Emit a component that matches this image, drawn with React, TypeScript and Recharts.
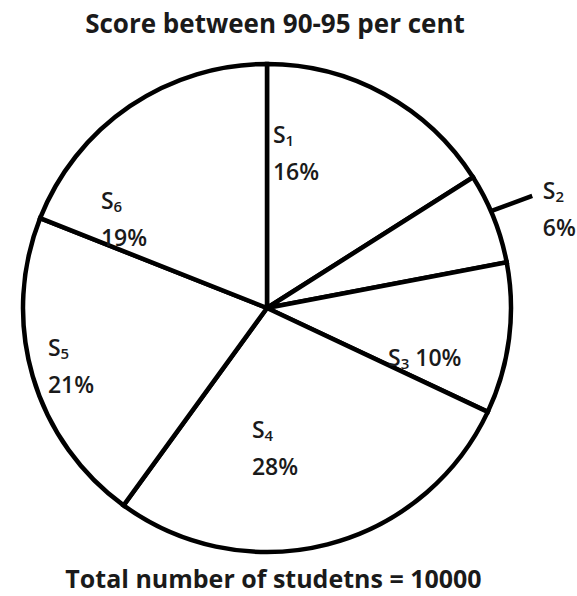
import React from "react";
import { PieChart, Pie, Cell } from "recharts";

// share of students per school, in per cent
const schools = ["S1", "S2", "S3", "S4", "S5", "S6"];
const shares = [16, 6, 10, 28, 21, 19];

const data = schools.map((name, i) => ({ name, value: shares[i] }));

// where each label sits: angle turned from the slice middle, radius as a fraction of R
const labelSpot = [
  { turn: 26.6, k: 0.63 },
  { turn: -2, k: 1.2 },
  { turn: -14.8, k: 0.535 },
  { turn: -20.5, k: 0.58 },
  { turn: -1.1, k: 0.93 },
  { turn: 27.9, k: 0.77 },
];

const RAD = Math.PI / 180;
const INK = "#1a1a1a";
const FONT = "'Open Sans', sans-serif";

const polar = (cx: number, cy: number, r: number, deg: number) => ({
  x: cx + r * Math.cos(-deg * RAD),
  y: cy + r * Math.sin(-deg * RAD),
});

function Tag({ name, x, y }: { name: string; x: number; y: number }) {
  return (
    <tspan x={x} y={y}>
      S
      <tspan fontSize={15} dy={6}>
        {name.slice(1)}
      </tspan>
    </tspan>
  );
}

const renderLabel = (props: any) => {
  const { cx, cy, midAngle, outerRadius, index, name, value } = props;
  const spot = labelSpot[index];
  const p = polar(cx, cy, outerRadius * spot.k, midAngle + spot.turn);
  const pct = `${value}%`;

  if (index === 2) {
    // single line label
    return (
      <text x={p.x} y={p.y} fill={INK} fontSize={23} fontWeight={600} fontFamily={FONT} dominantBaseline="central">
        S
        <tspan fontSize={15} dy={6}>
          {name.slice(1)}
        </tspan>
        <tspan dy={-6}> {pct}</tspan>
      </text>
    );
  }

  let leader = null;
  if (index === 1) {
    const a = polar(cx, cy, outerRadius, midAngle + 1.8);
    const b = polar(cx, cy, outerRadius * 1.18, midAngle + 1.3);
    leader = <line x1={a.x} y1={a.y} x2={b.x} y2={b.y} stroke="#000" strokeWidth={4.5} />;
  }

  return (
    <g>
      {leader}
      <text fill={INK} fontSize={23} fontWeight={600} fontFamily={FONT} dominantBaseline="central">
        <Tag name={name} x={p.x} y={p.y - 20} />
      </text>
      <text x={p.x} y={p.y + 17} fill={INK} fontSize={23} fontWeight={600} fontFamily={FONT} dominantBaseline="central">
        {pct}
      </text>
    </g>
  );
};

export default function App() {
  return (
    <div style={{ position: "absolute", left: 0, top: 0, width: 577, height: 596, background: "#fff" }}>
      <div
        style={{
          position: "absolute",
          top: 5,
          left: 0,
          width: 550,
          textAlign: "center",
          fontFamily: FONT,
          fontWeight: 700,
          fontSize: 26,
          lineHeight: "36px",
          color: INK,
        }}
      >
        Score between 90-95 per cent
      </div>
      <PieChart width={577} height={596}>
        <Pie
          data={data}
          dataKey="value"
          nameKey="name"
          cx={262}
          cy={303}
          outerRadius={244}
          startAngle={90}
          endAngle={-270}
          fill="#fff"
          stroke="#000"
          strokeWidth={4.5}
          label={renderLabel}
          labelLine={false}
          isAnimationActive={false}
        >
          {data.map((d) => (
            <Cell key={d.name} fill="#fff" stroke="#000" strokeWidth={4.5} />
          ))}
        </Pie>
      </PieChart>
      <div
        style={{
          position: "absolute",
          top: 560,
          left: 0,
          width: 547,
          textAlign: "center",
          fontFamily: FONT,
          fontWeight: 700,
          fontSize: 25,
          lineHeight: "36px",
          color: INK,
        }}
      >
        Total number of studetns = 10000
      </div>
    </div>
  );
}
